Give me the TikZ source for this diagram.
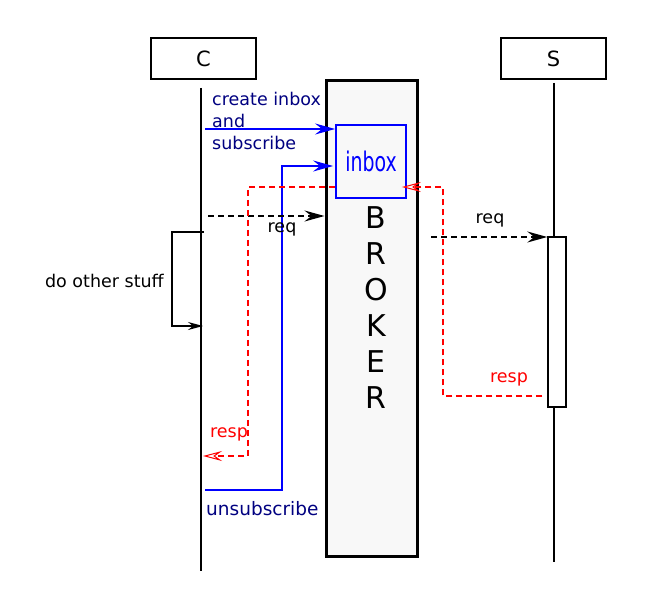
\documentclass[tikz,border=0pt]{standalone}
\usepackage{fontspec}
\setmainfont{DejaVu Sans}
\usetikzlibrary{arrows.meta}
\definecolor{navytext}{RGB}{0,0,128}
\definecolor{brokerfill}{RGB}{248,248,248}
\begin{document}
\begin{tikzpicture}[x=1pt,y=-1pt,font=\fontsize{17.5}{22}\selectfont]
		\tikzstyle{actor}=[draw,line width=1.5pt,minimum width=105pt,minimum height=41pt,inner sep=0pt,font=\fontsize{21}{24}\selectfont]
		\tikzstyle{life}=[line width=2pt]
		\tikzstyle{myblue}=[blue,line width=2pt,-{Stealth[length=20pt,width=11pt,inset=7pt]}]
		\tikzstyle{myreq}=[line width=2pt,dash pattern=on 6pt off 4pt,-{Stealth[length=20pt,width=11pt,inset=7pt]}]
		\tikzstyle{myresp}=[red,line width=1.8pt,dash pattern=on 6pt off 4pt,-{Stealth[open,length=19pt,width=10pt,inset=7pt,line width=1pt]}]
		\tikzstyle{myarrow}=[line width=1.4pt,-{Stealth[length=15pt,width=8pt,inset=5pt]}]
		\useasboundingbox (0,0) rectangle (668,599);

		\node[actor] (c) at (203.5,58.5) {C};
		\node[actor] (s) at (553.5,58.5) {S};
		\coordinate (ctop) at (201,88);
		\coordinate (cbot) at (201,571);
		\coordinate (stop) at (554,83);
		\coordinate (sbot) at (554,562);
		\draw[life] (ctop) -- (cbot);
		\draw[life] (stop) -- (sbot);

		\node[draw,line width=3pt,fill=brokerfill,minimum width=91pt,minimum height=475pt,inner sep=0pt] (broker) at (371.5,318.5) {};
		\foreach \l [count=\i] in {B,R,O,K,E,R} { \node[font=\fontsize{30}{32}\selectfont] (b\i) at (376,{182+36*\i}) {\l}; }
		\node[draw=blue,line width=1.8pt,minimum width=70pt,minimum height=73pt,text=blue,font=\fontsize{27}{30}\selectfont] (inbox) at (371,161.5) {\scalebox{0.7}[1]{inbox}};

		\node[draw,line width=1.4pt,fill=white,minimum width=18pt,minimum height=170pt,inner sep=0pt] (act) at (557,322) {};

		% create inbox and subscribe
		\coordinate (c1) at (205,129);
		\draw[myblue] (c1) -- (inbox.west |- c1);
		\node[navytext,align=left,anchor=north west,inner sep=0pt] (lcreate) at (212,92) {create inbox\\and\\subscribe};

		% unsubscribe
		\coordinate (u1) at (205,490);
		\coordinate (u2) at (282,166);
		\draw[myblue,shorten >=2pt] (u1) -| (u2) -- (inbox.west |- u2);
		\node[navytext,anchor=west,inner sep=0pt,font=\fontsize{18.5}{22}\selectfont] (lunsub) at (206,509) {unsubscribe};

		% requests
		\coordinate (q1) at (208,216);
		\coordinate (q2) at (431,237);
		\draw[myreq] (q1) -- (broker.west |- q1);
		\draw[myreq] (q2) -- (act.west |- q2);
		\node (lreq1) at (282,229) {req};
		\node (lreq2) at (490,220) {req};

		% responses
		\coordinate (r1) at (248,187);
		\coordinate (r2) at (203,456);
		\coordinate (r3) at (443,396);
		\draw[myresp] (inbox.west |- r1) -- (r1) |- (r2);
		\draw[myresp,shorten <=5pt,shorten >=-5pt] (act.west |- r3) -- (r3) |- (inbox.east |- r1);
		\node[red] (lresp1) at (229,434) {resp};
		\node[red] (lresp2) at (509,379) {resp};

		% do other stuff
		\coordinate (d1) at (204,232);
		\coordinate (d0) at (172,232);
		\coordinate (d2) at (203,326);
		\draw[myarrow] (d1) -- (d0) |- (d2);
		\node[anchor=east,inner sep=0pt] (lstuff) at (164,281) {do other stuff};
	\end{tikzpicture}
\end{document}
